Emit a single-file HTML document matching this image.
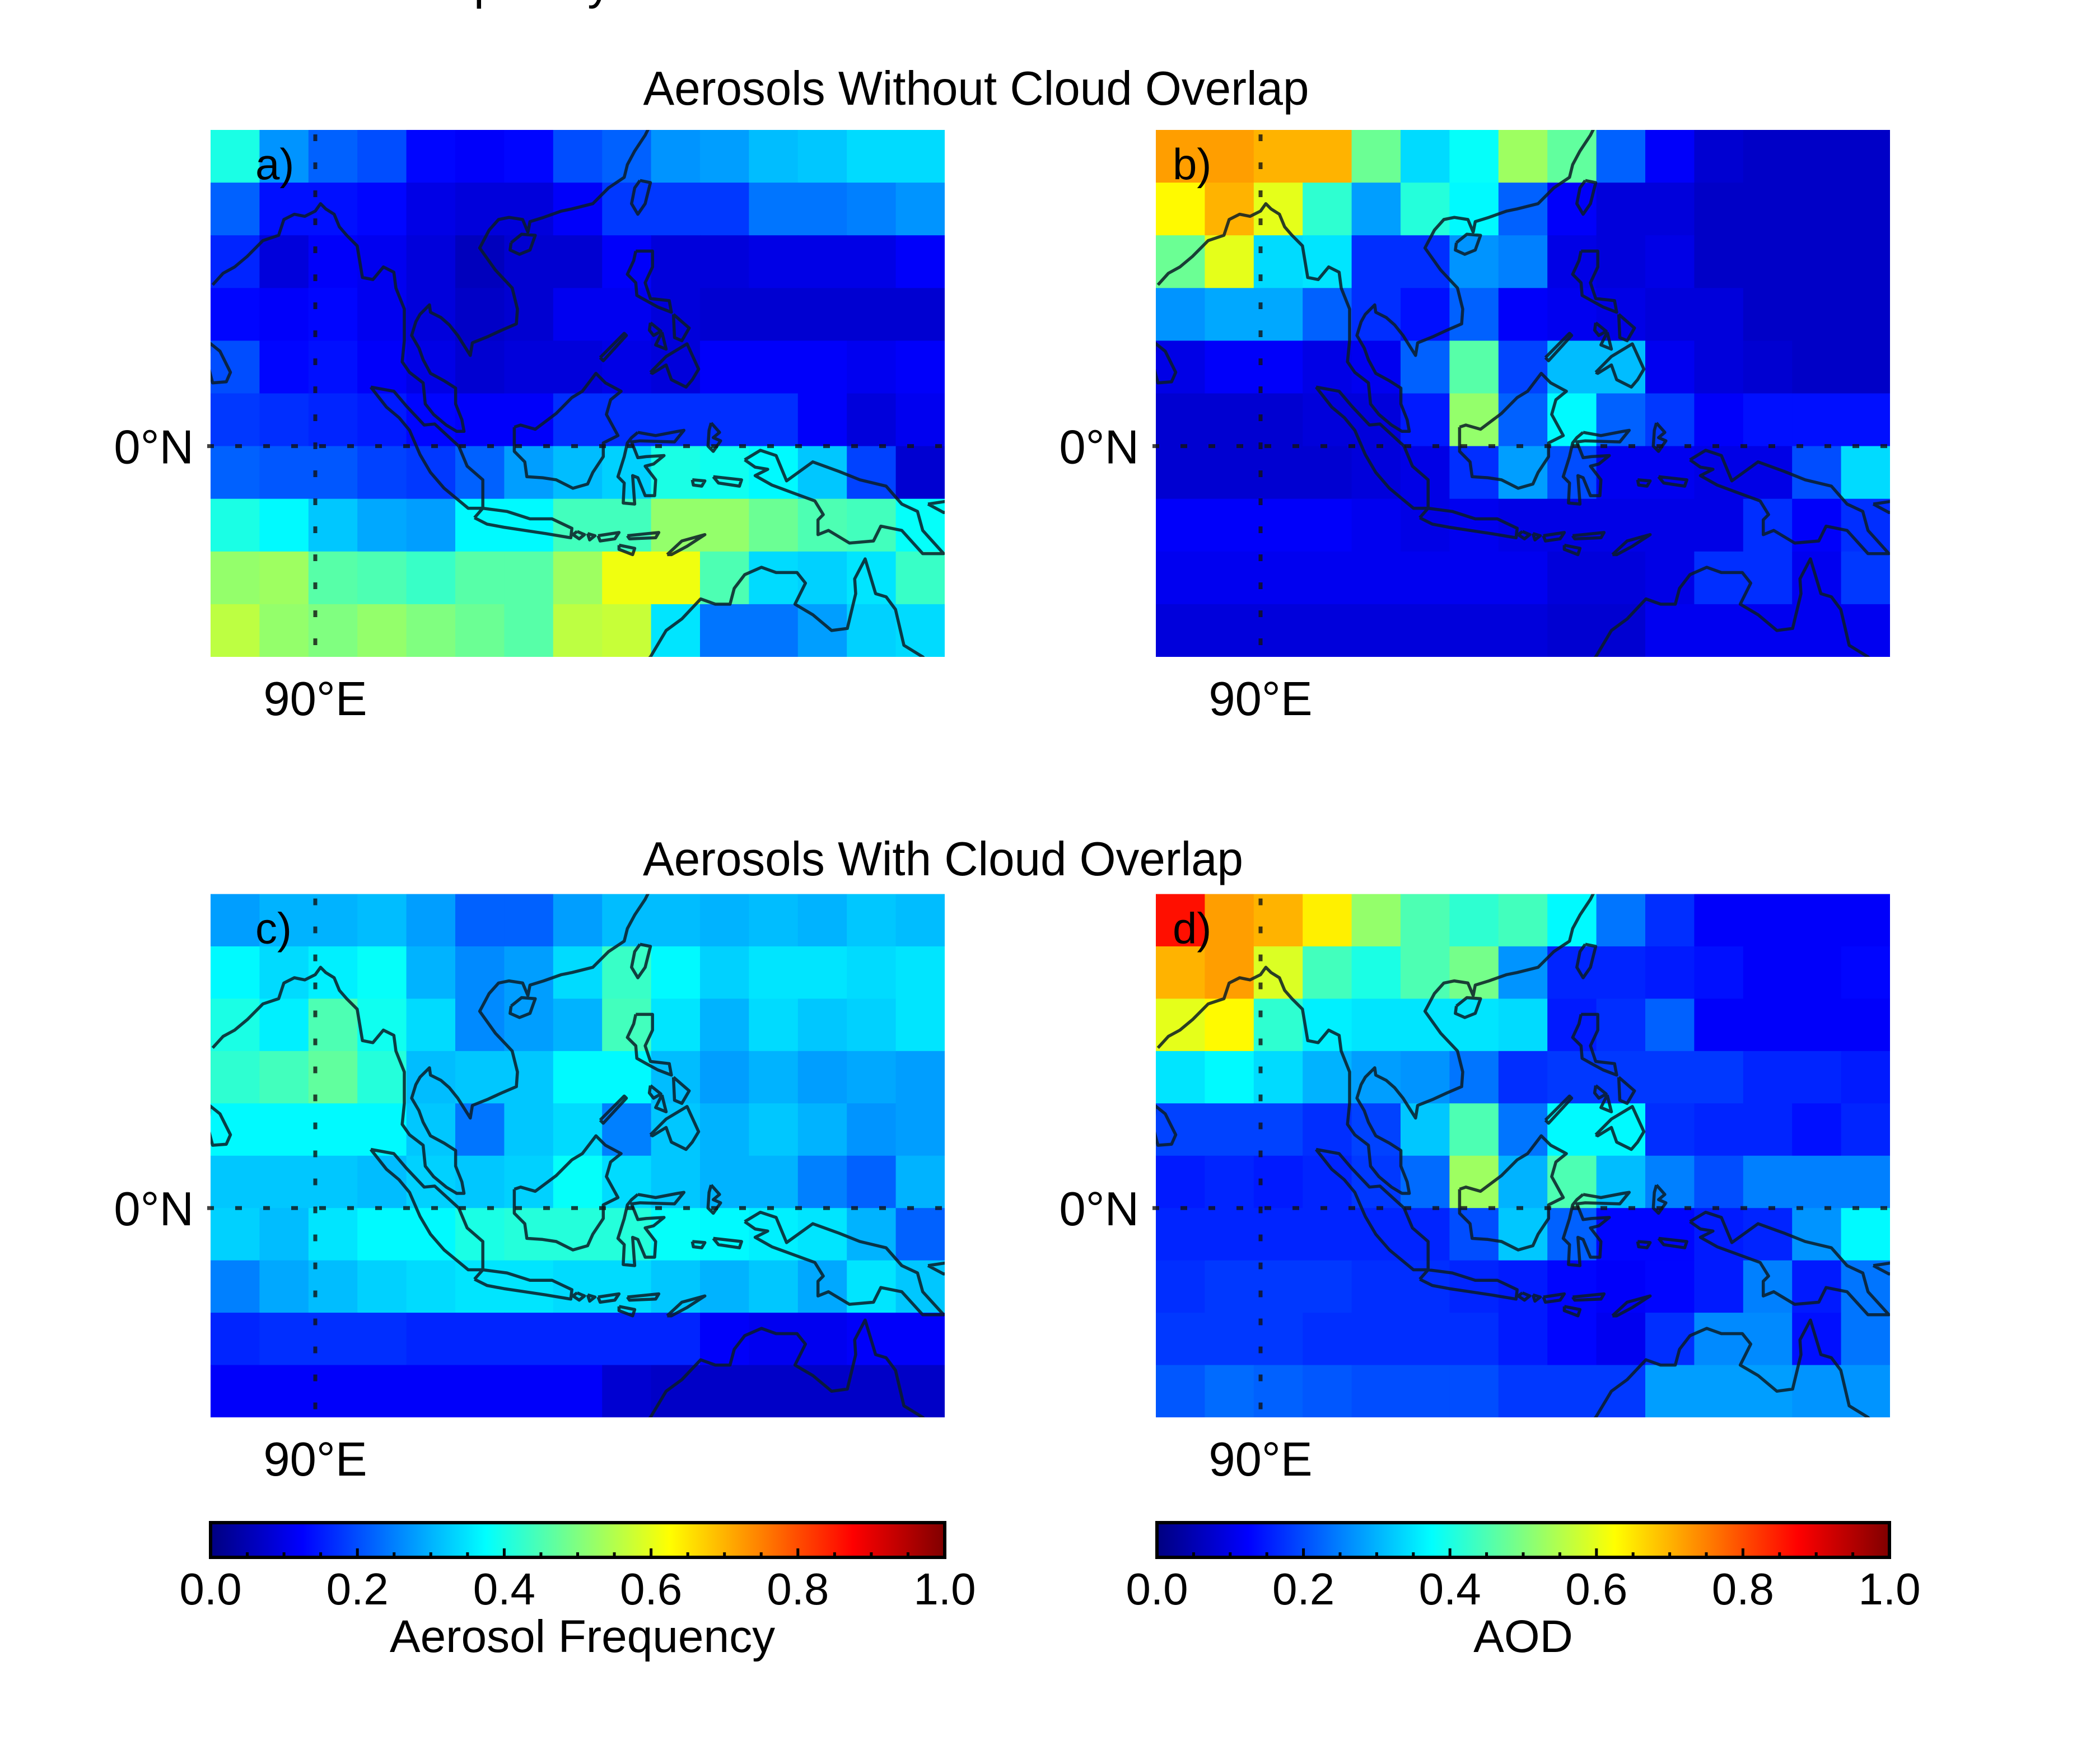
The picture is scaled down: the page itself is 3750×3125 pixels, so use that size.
<!DOCTYPE html>
<html>
<head>
<meta charset="utf-8">
<style>
  html,body{margin:0;padding:0;background:#fff;}
  svg{display:block;}
  text{font-family:"Liberation Sans",Arial,sans-serif;fill:#000;}
</style>
</head>
<body>
<svg id="fig" xmlns="http://www.w3.org/2000/svg" width="3750" height="3125" viewBox="0 0 3750 3125">
  <defs id="defs"></defs>
  <text x="690" y="-2" font-size="85">Frequency</text>
  <text x="1743" y="187" font-size="85" text-anchor="middle" textLength="1189" lengthAdjust="spacingAndGlyphs">Aerosols Without Cloud Overlap</text>
  <text x="1684" y="1563" font-size="85" text-anchor="middle" textLength="1072" lengthAdjust="spacingAndGlyphs">Aerosols With Cloud Overlap</text>
  <g id="panels"></g>
  <g id="bars"></g>
</svg>
<script>
// ---- data (values 0..1, rows top(30N) -> bottom(20S), 15 columns west -> east)
const freqNoCloud = [
 [0.40,0.27,0.22,0.20,0.13,0.12,0.13,0.20,0.22,0.27,0.28,0.31,0.32,0.34,0.34],
 [0.22,0.14,0.14,0.13,0.10,0.09,0.09,0.12,0.18,0.18,0.18,0.24,0.24,0.25,0.27],
 [0.16,0.09,0.12,0.11,0.09,0.06,0.08,0.08,0.12,0.09,0.09,0.10,0.10,0.10,0.12],
 [0.13,0.12,0.13,0.11,0.09,0.07,0.08,0.11,0.11,0.09,0.08,0.08,0.08,0.08,0.08],
 [0.20,0.13,0.14,0.12,0.10,0.08,0.09,0.09,0.10,0.09,0.12,0.12,0.12,0.11,0.12],
 [0.18,0.17,0.16,0.15,0.13,0.12,0.12,0.17,0.17,0.17,0.17,0.17,0.12,0.09,0.11],
 [0.22,0.21,0.21,0.19,0.18,0.22,0.28,0.31,0.33,0.40,0.39,0.37,0.32,0.19,0.08],
 [0.40,0.37,0.32,0.29,0.28,0.37,0.37,0.44,0.44,0.52,0.52,0.48,0.45,0.44,0.38],
 [0.52,0.53,0.46,0.45,0.43,0.46,0.46,0.53,0.61,0.61,0.45,0.34,0.33,0.35,0.43],
 [0.56,0.52,0.50,0.52,0.50,0.48,0.46,0.56,0.57,0.35,0.24,0.24,0.28,0.33,0.34]
];
const aodNoCloud = [
 [0.72,0.72,0.70,0.70,0.48,0.34,0.38,0.53,0.47,0.22,0.12,0.08,0.07,0.07,0.07],
 [0.63,0.70,0.60,0.42,0.28,0.41,0.37,0.22,0.12,0.09,0.09,0.07,0.07,0.07,0.07],
 [0.48,0.60,0.34,0.35,0.17,0.17,0.27,0.25,0.10,0.09,0.10,0.07,0.07,0.07,0.07],
 [0.27,0.29,0.29,0.22,0.17,0.14,0.22,0.12,0.11,0.10,0.09,0.09,0.07,0.07,0.07],
 [0.10,0.12,0.12,0.10,0.11,0.22,0.46,0.19,0.31,0.31,0.11,0.09,0.08,0.07,0.07],
 [0.08,0.08,0.08,0.09,0.09,0.15,0.52,0.22,0.37,0.22,0.18,0.12,0.14,0.14,0.14],
 [0.08,0.08,0.08,0.08,0.09,0.10,0.17,0.28,0.20,0.11,0.11,0.10,0.10,0.20,0.34],
 [0.12,0.12,0.12,0.12,0.11,0.10,0.11,0.10,0.10,0.10,0.10,0.10,0.17,0.12,0.17],
 [0.11,0.11,0.11,0.11,0.11,0.11,0.11,0.11,0.09,0.09,0.10,0.17,0.17,0.11,0.18],
 [0.09,0.09,0.09,0.09,0.09,0.09,0.09,0.09,0.08,0.08,0.11,0.11,0.11,0.11,0.11]
];
const freqCloud = [
 [0.28,0.30,0.30,0.31,0.28,0.22,0.22,0.28,0.31,0.31,0.30,0.31,0.30,0.32,0.31],
 [0.37,0.34,0.36,0.38,0.30,0.26,0.28,0.34,0.43,0.37,0.33,0.35,0.35,0.34,0.35],
 [0.40,0.36,0.45,0.39,0.34,0.26,0.28,0.30,0.44,0.35,0.30,0.34,0.32,0.33,0.35],
 [0.42,0.44,0.47,0.41,0.31,0.32,0.32,0.37,0.37,0.31,0.28,0.30,0.28,0.29,0.28],
 [0.37,0.37,0.37,0.37,0.32,0.24,0.32,0.34,0.25,0.32,0.30,0.32,0.30,0.27,0.28],
 [0.32,0.32,0.32,0.31,0.33,0.32,0.33,0.38,0.34,0.32,0.30,0.30,0.25,0.22,0.30],
 [0.33,0.31,0.35,0.37,0.37,0.40,0.41,0.41,0.41,0.38,0.37,0.36,0.35,0.30,0.22],
 [0.25,0.29,0.31,0.33,0.34,0.35,0.35,0.34,0.34,0.32,0.30,0.32,0.29,0.35,0.32],
 [0.16,0.17,0.17,0.17,0.16,0.16,0.16,0.16,0.16,0.16,0.12,0.11,0.11,0.12,0.12],
 [0.12,0.12,0.12,0.12,0.12,0.12,0.12,0.12,0.08,0.07,0.07,0.07,0.07,0.07,0.07]
];
const aodCloud = [
 [0.86,0.72,0.70,0.64,0.52,0.45,0.42,0.44,0.37,0.24,0.17,0.12,0.12,0.12,0.12],
 [0.70,0.72,0.59,0.44,0.40,0.45,0.49,0.27,0.16,0.16,0.15,0.14,0.12,0.12,0.13],
 [0.60,0.63,0.42,0.36,0.35,0.35,0.35,0.34,0.15,0.17,0.22,0.12,0.12,0.12,0.12],
 [0.35,0.37,0.34,0.30,0.28,0.27,0.24,0.17,0.18,0.18,0.18,0.18,0.16,0.16,0.15],
 [0.19,0.19,0.19,0.17,0.19,0.32,0.45,0.24,0.37,0.37,0.17,0.16,0.16,0.14,0.16],
 [0.15,0.16,0.15,0.16,0.18,0.23,0.53,0.30,0.45,0.31,0.25,0.20,0.25,0.25,0.25],
 [0.16,0.16,0.16,0.16,0.16,0.16,0.20,0.32,0.22,0.13,0.13,0.15,0.16,0.27,0.37],
 [0.17,0.18,0.18,0.18,0.17,0.17,0.16,0.15,0.13,0.12,0.13,0.15,0.25,0.15,0.24],
 [0.18,0.18,0.18,0.17,0.17,0.17,0.17,0.15,0.13,0.11,0.17,0.26,0.26,0.14,0.24],
 [0.21,0.23,0.22,0.21,0.20,0.20,0.20,0.18,0.18,0.18,0.28,0.28,0.28,0.27,0.27]
];
const panelLetters = ["a)","b)","c)","d)"];
const colorbarTicks = ["0.0","0.2","0.4","0.6","0.8","1.0"];
const colorbarTitles = ["Aerosol Frequency","AOD"];
const latLabel = "0°N";
const lonLabel = "90°E";

// coastlines (lon, lat)
const coasts = [
 [[80.2,15.3],[81.2,16.4],[82.3,17],[83.5,18],[85,19.5],[86.5,20],[87,21.5],[88,22],[89,21.8],[90,22.3],[90.5,23],[91,22.5],[91.8,22],[92.3,20.8],[93,20],[94,19],[94.5,16],[95.5,15.8],[96.5,17],[97.5,16.5],[97.7,15],[98.5,13],[98.5,10],[98.3,8],[99,7],[100.3,6],[100.5,4],[101.3,3],[102.5,2],[103.5,1.4],[104.2,1.4],[104,2.5],[103.4,4],[103.4,5.5],[102.3,6.2],[101,6.9],[100.3,8.2],[99.9,9.3],[99.2,10.5],[99.6,11.8],[100,12.5],[100.9,13.4],[101,12.7],[102,12.2],[102.8,11.5],[103.6,10.5],[104.8,8.6],[105,9.8],[106.5,10.4],[107.8,11],[109.2,11.6],[109.3,13],[108.8,15],[107.2,16.7],[105.7,18.8],[106.6,20.5],[107.5,21.5],[108.5,21.7],[109.8,21.5],[110.3,20.3],[110.5,21.3],[111.8,21.7],[113.5,22.3],[114.5,22.5],[116.5,23],[118,24.5],[119.5,25.5],[119.8,26.7],[120.5,28],[121.5,29.5],[122,30.5]],
 [[79.9,9.8],[80.9,9],[81.9,7],[81.5,6.1],[80.2,6],[79.8,7.5],[79.9,9.8]],
 [[108.7,19.3],[109.7,20.1],[111,20],[110.5,18.6],[109.5,18.2],[108.6,18.6],[108.7,19.3]],
 [[121,25.2],[122,25],[121.5,23],[120.8,22],[120.2,23],[120.5,24.5],[121,25.2]],
 [[95.3,5.6],[97.5,5.2],[98.7,3.8],[100.4,2],[101.4,2.1],[103.7,0],[104.5,-1.9],[106,-3.2],[106,-5.9],[104.6,-5.9],[102.3,-4],[101,-2.5],[100,-0.8],[99,1.5],[98,2.7],[96.8,3.7],[95.3,5.6]],
 [[105.2,-6.8],[106,-5.9],[108.3,-6.2],[110.5,-6.9],[112.6,-6.9],[114.5,-7.8],[114.4,-8.7],[112,-8.3],[110,-8],[108,-7.7],[106.4,-7.4],[105.2,-6.8]],
 [[115,-8.1],[115.7,-8.4],[115.2,-8.8],[114.6,-8.4],[115,-8.1]],
 [[116,-8.3],[116.7,-8.5],[116.2,-8.9],[116,-8.3]],
 [[117,-8.5],[119,-8.2],[118.6,-8.8],[117.2,-9],[117,-8.5]],
 [[119.8,-8.5],[122.8,-8.2],[122.5,-8.7],[120,-8.8],[119.8,-8.5]],
 [[119,-9.4],[120.5,-9.7],[120.3,-10.3],[119,-9.8],[119,-9.4]],
 [[123.6,-10.3],[125,-9],[127.2,-8.4],[125.5,-9.5],[124,-10.3],[123.6,-10.3]],
 [[109,1.8],[109.6,2],[111,1.6],[113,3.1],[114.5,4.6],[115.5,5.2],[116.8,6.9],[117.7,6],[119.2,5.2],[118.2,4.4],[117.8,3],[118.9,1],[117.5,0.3],[117.5,-1],[116.5,-2.5],[116,-3.6],[114.6,-4],[113,-3.2],[111.7,-3],[110.2,-2.9],[110,-1.5],[109,-0.5],[109,1.8]],
 [[120.8,1.3],[122.5,1],[124.6,1.4],[125.2,1.5],[124.3,0.4],[121,0.5],[120.2,0.4],[120.8,-1.1],[121.6,-1],[123.3,-0.9],[122.3,-1.7],[121.5,-1.9],[122.5,-3.2],[122.4,-4.7],[121.5,-4.7],[120.8,-3],[120.3,-2.8],[120.5,-5.5],[119.4,-5.4],[119.5,-3.5],[118.9,-2.9],[119.5,-1],[119.8,0.3],[120.2,0.8],[120.8,1.3]],
 [[127.8,2.2],[128.6,1.3],[128,0.8],[128.7,0.5],[128,-0.5],[127.5,0],[127.6,1.5],[127.8,2.2]],
 [[120.6,18.5],[122.2,18.5],[122.2,17],[121.5,15.5],[122,14],[123.8,13.8],[124,12.7],[122.7,13.2],[121.6,13.8],[120.7,14.3],[120.6,15.5],[119.8,16.3],[120.4,17.6],[120.6,18.5]],
 [[122,7],[123.5,8.5],[125.5,9.7],[126.6,7.3],[126,6.3],[125.4,5.6],[124,6.3],[123.5,7.7],[122.2,6.9],[122,7]],
 [[124.2,12.5],[125.7,11.2],[125,10],[124.3,10.3],[124.2,12.5]],
 [[122,11.7],[123,10.9],[122.3,10.5],[121.9,11],[122,11.7]],
 [[123.1,10.8],[123.5,9.2],[122.5,9.6],[123.1,10.8]],
 [[117.2,8.4],[119.5,10.7],[119.7,10.5],[117.5,8.1],[117.2,8.4]],
 [[131,-1.3],[132.5,-0.4],[134,-0.9],[135,-3.3],[137.5,-1.5],[140,-2.4],[142,-3.2],[144.5,-3.8],[146,-5.5],[147.5,-6.2],[148,-8],[150,-10.2],[148,-10.2],[146,-8],[144,-7.6],[143.3,-9],[141,-9.2],[139,-8],[138,-8.4],[138,-7],[138.5,-6.5],[137.7,-5.2],[135.5,-4.4],[133.6,-3.7],[132,-2.8],[133.2,-2.2],[132,-2],[131,-1.3]],
 [[148.5,-5.5],[150.5,-5.2],[152,-4.3],[152,-6],[150,-6.3],[148.5,-5.5]],
 [[126,-3.2],[127.2,-3.3],[126.9,-3.8],[126.1,-3.7],[126,-3.2]],
 [[128,-2.9],[130.7,-3.2],[130.5,-3.8],[128.5,-3.5],[128,-2.9]],
 [[121,-21],[122,-20],[123.5,-17.5],[125,-16.4],[126.8,-14.5],[128.2,-15],[129.6,-15],[130,-13.5],[131,-12.2],[132.6,-11.5],[134,-12],[136,-12],[136.8,-13],[135.8,-15],[137.5,-16],[139.3,-17.5],[140.8,-17.3],[141.6,-14],[141.5,-12.6],[142.5,-10.7],[143.5,-14],[144.5,-14.3],[145.4,-15.5],[146.2,-18.9],[148,-20],[149,-21]]
];

const NS = "http://www.w3.org/2000/svg";
function mk(tag, attrs, parent){
  const e = document.createElementNS(NS, tag);
  for (const k in attrs) e.setAttribute(k, attrs[k]);
  parent.appendChild(e);
  return e;
}
function clamp(v){return Math.max(0, Math.min(1, v));}
function jet(v){
  const r = clamp(1.5 - Math.abs(4*v - 3));
  const g = clamp(1.5 - Math.abs(4*v - 2));
  const b = clamp(1.5 - Math.abs(4*v - 1));
  return "rgb(" + Math.round(r*255) + "," + Math.round(g*255) + "," + Math.round(b*255) + ")";
}

const svg = document.getElementById("fig");
const defs = document.getElementById("defs");
const panelsG = document.getElementById("panels");
const barsG = document.getElementById("bars");

const LON0 = 80, LON1 = 150.1, LAT0 = 30, LAT1 = -20;
const panels = [
  {data: freqNoCloud, x: 376,  y: 232,    w: 1311, h: 941,   name: "panel-a-frequency-no-cloud"},
  {data: aodNoCloud,  x: 2064, y: 232,    w: 1311, h: 941,   name: "panel-b-aod-no-cloud"},
  {data: freqCloud,   x: 376,  y: 1596.5, w: 1311, h: 934.5, name: "panel-c-frequency-cloud"},
  {data: aodCloud,    x: 2064, y: 1596.5, w: 1311, h: 934.5, name: "panel-d-aod-cloud"}
];

panels.forEach(function(p, i){
  const xs = function(lon){ return p.x + (lon - LON0) / (LON1 - LON0) * p.w; };
  const ys = function(lat){ return p.y + (LAT0 - lat) / (LAT0 - LAT1) * p.h; };
  const g = mk("g", {}, panelsG);
  
  
  const cp = mk("clipPath", {id: "clip" + i}, defs);
  mk("rect", {x: p.x, y: p.y, width: p.w, height: p.h}, cp);

  const nr = p.data.length, nc = p.data[0].length;
  const cw = p.w / nc, rh = p.h / nr;
  p.data.forEach(function(row, r){
    row.forEach(function(v, c){
      const cell = mk("rect", {x: p.x + c*cw, y: p.y + r*rh, width: cw + 0.6, height: rh + 0.6, fill: jet(v)}, g);
      
      
    });
  });
  const cg = mk("g", {"clip-path": "url(#clip" + i + ")"}, g);
  let d = "";
  coasts.forEach(function(line){
    line.forEach(function(pt, k){
      d += (k ? "L" : "M") + xs(pt[0]).toFixed(1) + " " + ys(pt[1]).toFixed(1);
    });
  });
  const coast = mk("path", {d: d, fill: "none", stroke: "#0b1c26", "stroke-opacity": "0.85", "stroke-width": "5.5", "stroke-linejoin": "round"}, cg);
  
  
  const eq = mk("line", {x1: p.x - 6, x2: p.x + p.w, y1: ys(0), y2: ys(0), stroke: "#111", "stroke-opacity": "0.8", "stroke-width": "7", "stroke-dasharray": "12 38"}, g);
  
  
  const mer = mk("line", {x1: xs(90), x2: xs(90), y1: p.y + 8, y2: p.y + p.h + 6, stroke: "#111", "stroke-opacity": "0.8", "stroke-width": "7", "stroke-dasharray": "12 38"}, g);
  
  
  mk("rect", {x: p.x + p.w, y: p.y - 2, width: 20, height: p.h + 4, fill: "#fff"}, g);
  mk("rect", {x: p.x - 2, y: p.y + p.h, width: p.w + 22, height: 6, fill: "#fff"}, g);

  const lab = mk("text", {x: p.x + (i % 2 ? 30 : 80), y: p.y + 88, "font-size": "78"}, g);
  lab.textContent = panelLetters[i];
  
  
  const lt = mk("text", {x: p.x - 30, y: ys(0) + 31, "font-size": "85", "text-anchor": "end", fill: "#161616"}, g);
  lt.textContent = latLabel;
  
  
  const ln = mk("text", {x: xs(90), y: p.y + p.h + 104, "font-size": "85", "text-anchor": "middle", fill: "#161616"}, g);
  ln.textContent = lonLabel;
  
  
});

// colorbars
const grad = mk("linearGradient", {id: "jetgrad", x1: "0", x2: "1", y1: "0", y2: "0"}, defs);
for (let s = 0; s <= 40; s++){
  mk("stop", {offset: (s/40).toFixed(3), "stop-color": jet(s/40)}, grad);
}
const bars = [{x: 376, w: 1311, cx: 1040}, {x: 2066, w: 1308, cx: 2720}];
bars.forEach(function(b, i){
  const g = mk("g", {}, barsG);
  
  
  const top = 2719, bot = 2781;
  mk("rect", {x: b.x, y: top, width: b.w, height: bot - top, fill: "url(#jetgrad)", stroke: "#000", "stroke-width": "6"}, g);
  const bx = function(v){ return b.x + v * b.w; };
  for (let k = 1; k < 20; k++){
    const v = k / 20;
    const major = (k % 4 === 0);
    const t = mk("line", {x1: bx(v), x2: bx(v), y1: bot, y2: bot - (major ? 16 : 9), stroke: "#000", "stroke-width": "5"}, g);
    
    
  }
  colorbarTicks.forEach(function(lbl){
    const tl = mk("text", {x: bx(parseFloat(lbl)), y: 2865, "font-size": "80", "text-anchor": "middle"}, g);
    tl.textContent = lbl;
    
    
  });
  const ttl = mk("text", {x: b.cx, y: 2950, "font-size": "82", "text-anchor": "middle"}, g);
  ttl.textContent = colorbarTitles[i];
  
  
});
</script>
</body>
</html>
